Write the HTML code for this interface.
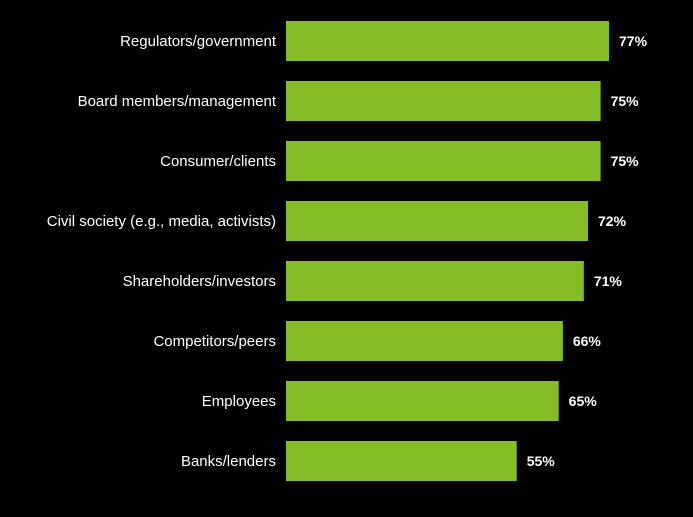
<!DOCTYPE html>
<html><head><meta charset="utf-8"><style>
body{margin:0;background:#000;width:693px;height:517px;overflow:hidden;font-family:"Liberation Sans",sans-serif}
svg{display:block}
</style></head><body>
<svg id="chart" width="693" height="517" xmlns="http://www.w3.org/2000/svg"></svg>
<script>
const categories=["Regulators/government","Board members/management","Consumer/clients","Civil society (e.g., media, activists)","Shareholders/investors","Competitors/peers","Employees","Banks/lenders"];
const values=[77,75,75,72,71,66,65,55];
const valueLabels=["77%","75%","75%","72%","71%","66%","65%","55%"];
const svg=document.getElementById('chart');
const NS="http://www.w3.org/2000/svg";
const x0=286, pxPer=323/77;
function xScale(v){return x0+v*pxPer;}
function yScale(i){return 21+i*60;}
const bh=40;
categories.forEach((c,i)=>{
  const y=yScale(i);
  const r=document.createElementNS(NS,'rect');
  r.setAttribute('x',x0);r.setAttribute('y',y);
  r.setAttribute('width',xScale(values[i])-x0);r.setAttribute('height',bh);
  r.setAttribute('fill','#86bc25');
  
  
  svg.appendChild(r);
  const t=document.createElementNS(NS,'text');
  t.setAttribute('x',276);t.setAttribute('y',y+bh/2+5);
  t.setAttribute('text-anchor','end');t.setAttribute('fill','#fff');t.setAttribute('font-size','15');
  t.textContent=c;
  
  
  svg.appendChild(t);
  const v=document.createElementNS(NS,'text');
  v.setAttribute('x',xScale(values[i])+10);v.setAttribute('y',y+bh/2+5);
  v.setAttribute('fill','#fff');v.setAttribute('font-size','14');v.setAttribute('font-weight','bold');
  v.textContent=valueLabels[i];
  
  
  svg.appendChild(v);
});
</script>
</body></html>
